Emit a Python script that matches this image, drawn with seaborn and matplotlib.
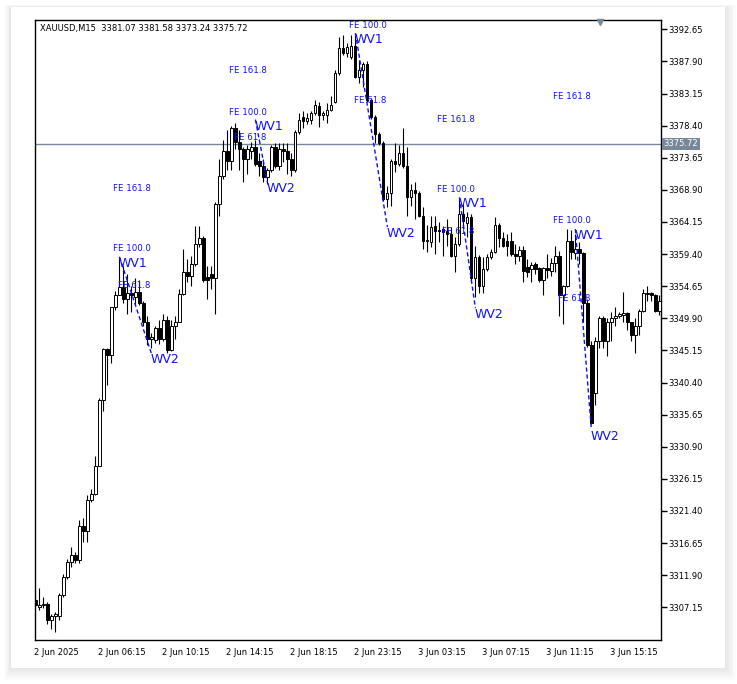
import matplotlib
matplotlib.use("Agg")
import matplotlib.pyplot as plt
import matplotlib.transforms as mtransforms
from matplotlib.patches import Rectangle
import seaborn as sns
import numpy as np

# XAUUSD M15 candles
opens = [3308.3, 3307.2, 3307.5, 3307.7, 3305.3, 3305.8, 3305.8, 3309.0, 3311.7, 3313.9,
         3314.9, 3314.2, 3319.2, 3318.4, 3323.0, 3323.9, 3328.1, 3337.8, 3345.3, 3344.4,
         3351.5, 3353.4, 3354.6, 3352.7, 3353.7, 3353.1, 3353.8, 3352.1, 3349.4, 3346.9,
         3346.7, 3348.5, 3346.9, 3349.6, 3345.2, 3348.8, 3349.4, 3353.5, 3356.8, 3356.2,
         3358.0, 3360.9, 3361.8, 3356.0, 3356.5, 3355.9, 3366.8, 3370.9, 3374.6, 3373.1,
         3378.1, 3376.0, 3374.9, 3373.4, 3374.6, 3375.2, 3373.1, 3372.5, 3370.8, 3371.9,
         3375.2, 3372.4, 3374.9, 3374.6, 3373.4, 3371.9, 3377.4, 3379.7, 3379.1, 3379.3,
         3380.3, 3381.3, 3380.0, 3380.0, 3380.7, 3381.9, 3386.2, 3389.9, 3389.1, 3388.5,
         3390.2, 3385.6, 3386.6, 3387.5, 3382.2, 3379.7, 3377.1, 3375.9, 3367.5, 3368.5,
         3373.1, 3372.7, 3374.4, 3372.5, 3367.9, 3368.9, 3368.5, 3365.0, 3361.3, 3361.2,
         3363.5, 3362.8, 3363.1, 3362.8, 3362.4, 3359.1, 3360.9, 3365.3, 3364.0, 3364.9,
         3355.8, 3359.0, 3354.7, 3357.2, 3359.0, 3359.7, 3363.7, 3361.8, 3361.3, 3361.3,
         3359.4, 3359.1, 3360.0, 3357.5, 3357.2, 3357.9, 3357.4, 3355.5, 3357.4, 3356.9,
         3358.1, 3359.1, 3353.3, 3354.7, 3361.3, 3359.6, 3360.2, 3359.6, 3352.1, 3345.9,
         3338.8, 3346.5, 3350.0, 3346.5, 3349.4, 3350.0, 3350.3, 3350.4, 3350.7, 3349.3,
         3347.4, 3348.7, 3351.0, 3353.5, 3353.7, 3353.4, 3351.0]
highs = [3309.0, 3310.0, 3308.7, 3308.0, 3306.2, 3306.4, 3309.3, 3312.0, 3314.3, 3316.1,
         3315.3, 3320.0, 3320.3, 3323.7, 3324.6, 3329.6, 3338.1, 3345.5, 3345.5, 3351.6,
         3353.9, 3359.0, 3357.7, 3356.5, 3354.7, 3355.8, 3355.5, 3352.5, 3350.2, 3347.7,
         3348.7, 3349.6, 3350.6, 3350.2, 3349.6, 3350.2, 3354.3, 3360.2, 3358.7, 3359.1,
         3363.5, 3363.5, 3362.1, 3357.7, 3357.7, 3367.1, 3373.4, 3376.3, 3377.8, 3378.4,
         3378.8, 3377.8, 3375.3, 3375.5, 3376.0, 3376.3, 3374.4, 3373.4, 3372.2, 3375.6,
         3375.9, 3375.9, 3375.9, 3375.9, 3374.4, 3377.7, 3380.2, 3380.5, 3380.2, 3380.6,
         3382.2, 3381.9, 3380.6, 3381.8, 3382.8, 3386.6, 3391.5, 3391.8, 3390.6, 3391.8,
         3391.9, 3388.1, 3387.8, 3387.9, 3382.5, 3380.0, 3377.4, 3376.2, 3369.4, 3373.5,
         3375.9, 3375.6, 3378.1, 3375.3, 3369.7, 3370.0, 3368.7, 3366.3, 3363.7, 3365.0,
         3365.0, 3364.1, 3363.5, 3364.6, 3363.4, 3361.9, 3367.5, 3366.8, 3365.7, 3365.3,
         3360.6, 3359.3, 3359.0, 3359.4, 3360.2, 3364.9, 3364.0, 3362.7, 3362.4, 3362.7,
         3360.9, 3360.6, 3360.6, 3358.7, 3358.2, 3358.2, 3357.5, 3357.5, 3359.4, 3358.8,
         3360.6, 3359.9, 3354.9, 3363.1, 3362.9, 3362.4, 3361.2, 3359.7, 3352.8, 3346.6,
         3347.1, 3350.3, 3350.2, 3349.9, 3350.9, 3351.6, 3350.9, 3353.8, 3350.9, 3349.4,
         3349.9, 3351.3, 3354.3, 3354.7, 3353.8, 3353.5, 3353.3]
lows = [3307.0, 3306.8, 3307.0, 3304.7, 3303.9, 3303.5, 3305.3, 3308.7, 3311.4, 3313.1,
        3313.7, 3313.7, 3316.8, 3316.8, 3322.7, 3323.7, 3328.0, 3336.2, 3340.0, 3343.3,
        3351.2, 3353.3, 3352.1, 3350.6, 3350.9, 3351.8, 3351.8, 3348.8, 3345.9, 3345.5,
        3346.3, 3346.1, 3346.5, 3344.7, 3345.1, 3346.9, 3349.3, 3353.3, 3355.3, 3354.7,
        3357.7, 3360.5, 3355.3, 3352.8, 3354.3, 3350.6, 3365.0, 3370.5, 3371.9, 3371.9,
        3374.9, 3371.9, 3370.0, 3371.2, 3373.4, 3372.4, 3370.9, 3370.0, 3369.7, 3371.6,
        3372.2, 3371.9, 3373.0, 3371.2, 3370.9, 3371.6, 3377.1, 3378.1, 3378.7, 3378.7,
        3380.0, 3378.2, 3379.3, 3378.8, 3380.5, 3381.8, 3385.9, 3388.8, 3388.5, 3388.2,
        3385.4, 3384.7, 3384.1, 3381.9, 3379.4, 3375.9, 3375.6, 3367.2, 3366.3, 3366.5,
        3371.5, 3372.4, 3372.2, 3365.0, 3366.5, 3364.6, 3364.9, 3360.2, 3359.7, 3360.5,
        3359.4, 3361.2, 3359.1, 3360.6, 3359.0, 3356.8, 3360.6, 3363.3, 3361.9, 3355.3,
        3353.1, 3353.6, 3353.6, 3356.9, 3358.7, 3359.6, 3360.5, 3360.5, 3359.1, 3359.1,
        3358.0, 3358.4, 3355.3, 3356.0, 3355.3, 3356.5, 3355.3, 3353.3, 3355.9, 3356.2,
        3356.8, 3350.2, 3349.1, 3354.6, 3358.7, 3358.7, 3358.0, 3349.4, 3345.7, 3334.3,
        3337.1, 3345.5, 3345.5, 3344.3, 3346.5, 3348.7, 3349.9, 3349.4, 3348.1, 3346.5,
        3344.7, 3347.4, 3350.9, 3352.5, 3352.4, 3350.9, 3350.4]
closes = [3307.5, 3307.5, 3307.7, 3305.3, 3305.8, 3306.1, 3309.0, 3311.7, 3313.9, 3314.9,
          3314.2, 3319.2, 3318.4, 3323.0, 3323.9, 3328.1, 3337.8, 3345.3, 3344.4, 3351.5,
          3353.4, 3354.6, 3352.7, 3353.7, 3353.4, 3353.8, 3352.1, 3349.4, 3346.9, 3347.2,
          3348.5, 3346.9, 3349.6, 3345.2, 3348.8, 3349.4, 3353.5, 3356.8, 3356.2, 3358.0,
          3360.9, 3361.8, 3355.5, 3355.5, 3355.9, 3366.8, 3370.9, 3374.6, 3373.1, 3378.1,
          3376.0, 3374.9, 3373.4, 3374.9, 3375.2, 3372.7, 3372.5, 3370.8, 3371.9, 3375.2,
          3372.4, 3374.9, 3374.6, 3373.4, 3371.9, 3377.4, 3379.3, 3379.1, 3379.6, 3380.3,
          3381.5, 3380.0, 3380.2, 3380.7, 3381.5, 3386.2, 3389.9, 3389.1, 3390.0, 3390.2,
          3385.6, 3386.6, 3387.5, 3382.2, 3379.7, 3377.1, 3375.9, 3367.5, 3368.5, 3373.1,
          3372.7, 3374.4, 3372.5, 3367.8, 3368.9, 3368.5, 3365.0, 3361.3, 3361.5, 3363.4,
          3362.8, 3362.9, 3362.7, 3362.4, 3359.1, 3360.9, 3365.3, 3364.3, 3364.9, 3355.8,
          3359.0, 3354.7, 3357.2, 3359.0, 3359.7, 3363.7, 3361.8, 3360.6, 3360.6, 3359.4,
          3359.1, 3360.0, 3356.9, 3356.8, 3357.8, 3357.2, 3355.5, 3357.4, 3357.1, 3358.1,
          3359.1, 3353.3, 3354.7, 3361.3, 3359.7, 3360.2, 3359.6, 3352.1, 3345.9, 3334.4,
          3346.5, 3350.0, 3346.5, 3349.4, 3350.0, 3350.3, 3350.6, 3350.7, 3349.4, 3347.4,
          3348.7, 3351.0, 3353.7, 3353.7, 3353.3, 3351.0, 3352.4]

# time axis labels, one every 16 bars
time_labels = ["2 Jun 2025", "2 Jun 06:15", "2 Jun 10:15", "2 Jun 14:15", "2 Jun 18:15",
               "2 Jun 23:15", "3 Jun 03:15", "3 Jun 07:15", "3 Jun 11:15", "3 Jun 15:15"]
price_ticks = [3392.65, 3387.90, 3383.15, 3378.40, 3373.65, 3368.90, 3364.15, 3359.40,
               3354.65, 3349.90, 3345.15, 3340.40, 3335.65, 3330.90, 3326.15, 3321.40,
               3316.65, 3311.90, 3307.15]
last_price = 3375.72
header = "XAUUSD,M15  3381.07 3381.58 3373.24 3375.72"

# wave pivots (bar index, price)
wv1_idx = [21, 55, 80, 106, 135]
wv1_price = [3359.0, 3379.3, 3392.1, 3367.8, 3363.1]
wv2_idx = [29, 58, 88, 110, 139]
wv2_price = [3344.7, 3370.0, 3363.4, 3351.4, 3333.4]

# fibo expansion labels per wave (None = off chart)
fe_1618 = [3369.1, 3386.5, None, 3379.3, 3382.7]
fe_1000 = [3360.2, 3380.3, 3393.2, 3369.0, 3364.3]
fe_618 = [3354.7, 3376.6, 3382.1, 3362.8, 3352.8]

sns.set_style("white")
plt.rcParams['font.family'] = ['DejaVu Sans']

fig = plt.figure(figsize=(7.37, 6.84), dpi=100)
fig.patch.set_facecolor("white")

# card with soft shadow
cx0, cy0, cx1, cy1 = 11 / 737, 1 - 668 / 684, 725 / 737, 1 - 7 / 684
for k in range(8, 0, -1):
    d = k * 0.0018
    fig.patches.append(Rectangle((cx0 - d * 0.6, cy0 - d * 1.2), (cx1 - cx0) + d * 1.6, (cy1 - cy0) + d * 1.4,
                                 transform=fig.transFigure, facecolor="#000000", alpha=0.012,
                                 edgecolor="none", zorder=0))
fig.patches.append(Rectangle((cx0, cy0), cx1 - cx0, cy1 - cy0, transform=fig.transFigure,
                             facecolor="white", edgecolor="none", zorder=1))

ax = fig.add_axes([35 / 737, 1 - 640 / 684, 626 / 737, 620 / 684])
ax.set_facecolor("white")
ax.set_zorder(2)

n = len(closes)
x = np.arange(n)
o = np.array(opens)
c = np.array(closes)
up = c >= o

ax.vlines(x, lows, highs, color="black", linewidth=0.8, zorder=2)
body_lo = np.minimum(o, c)
body_h = np.maximum(np.abs(c - o), 0.05)
ax.bar(x[up], body_h[up], bottom=body_lo[up], width=0.55, color="white",
       edgecolor="black", linewidth=0.7, zorder=3)
ax.bar(x[~up], body_h[~up], bottom=body_lo[~up], width=0.55, color="black",
       edgecolor="black", linewidth=0.7, zorder=3)

# current price line
ax.axhline(last_price, color="#778899", linewidth=1, zorder=1)

blue = "#1010ff"
for i in range(len(wv1_idx)):
    sns.lineplot(x=[wv1_idx[i], wv2_idx[i]], y=[wv1_price[i], wv2_price[i]], ax=ax,
                 color=blue, linewidth=1, linestyle=(0, (3, 2)), zorder=4)
    ax.text(wv1_idx[i] - 0.1, wv1_price[i], "WV1", color=blue, fontsize=9,
            ha="left", va="top", zorder=5)
    ax.text(wv2_idx[i] - 0.1, wv2_price[i], "WV2", color=blue, fontsize=9,
            ha="left", va="top", zorder=5)
    for lvl, name in [(fe_1618[i], "FE 161.8"), (fe_1000[i], "FE 100.0"), (fe_618[i], "FE 61.8")]:
        if lvl is None:
            continue
        ax.text(wv2_idx[i] - 0.2, lvl, name, color=blue, fontsize=6.2,
                ha="right", va="center", zorder=5)

ax.set_xlim(-0.1, 156.4)
ax.set_ylim(3302.31, 3394.03)

ax.set_xticks(np.arange(len(time_labels)) * 16)
ax.set_xticklabels(time_labels, ha="left", fontsize=6)
ax.set_yticks(price_ticks)
ax.set_yticklabels([f"{v:.2f}" for v in price_ticks], fontsize=6)
ax.yaxis.tick_right()
ax.tick_params(axis="both", direction="out", length=4, width=1, color="black",
               pad=1, labelcolor="black")
ax.tick_params(axis="x", pad=2)
for lab in ax.get_xticklabels():
    lab.set_transform(lab.get_transform() + mtransforms.ScaledTranslation(-1.5 / 100, 0, fig.dpi_scale_trans))
for s in ax.spines.values():
    s.set_visible(True)
    s.set_color("black")
    s.set_linewidth(1)

# price tag on the right scale
trans = mtransforms.blended_transform_factory(ax.transAxes, ax.transData)
ax.text(1.004, last_price, f"{last_price:.2f}", transform=trans, color="white", fontsize=6,
        ha="left", va="center", zorder=6, clip_on=False,
        bbox=dict(facecolor="#778899", edgecolor="none", pad=1.2))

# header text
ax.text(0.008, 0.994, header, transform=ax.transAxes, fontsize=6, ha="left", va="top",
        color="black", zorder=6)

# shift marker on top
ax.plot([0.902], [0.996], marker="v", color="#778899", markersize=5, transform=ax.transAxes,
        clip_on=False, zorder=6)

fig.savefig("out.png", dpi=100)
